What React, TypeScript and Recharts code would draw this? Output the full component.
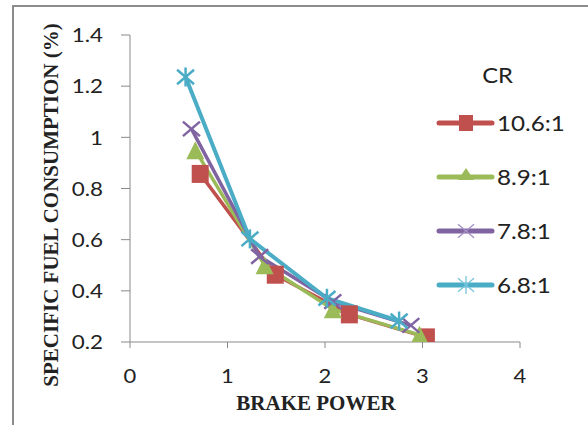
import React from 'react';
import { LineChart, Line, XAxis, YAxis, Legend } from 'recharts';

// ---- data ----
const SERIES_NAMES = ['10.6:1', '8.9:1', '7.8:1', '6.8:1'];
const SERIES_COLORS = ['#C0504D', '#9BBB59', '#8064A2', '#4BACC6'];
const SERIES_MARKERS = ['square', 'triangle', 'x', 'asterisk'];

const BP_106 = [0.72, 1.49, 2.25, 3.04];
const SFC_106 = [0.857, 0.463, 0.308, 0.218];
const BP_89 = [0.67, 1.38, 2.08, 2.97];
const SFC_89 = [0.95, 0.5, 0.328, 0.228];
const BP_78 = [0.63, 1.33, 2.08, 2.88];
const SFC_78 = [1.033, 0.534, 0.358, 0.265];
const BP_68 = [0.57, 1.23, 2.02, 2.76];
const SFC_68 = [1.236, 0.603, 0.371, 0.282];

const X_TICKS = [0, 1, 2, 3, 4];
const Y_TICKS = [0.2, 0.4, 0.6, 0.8, 1.0, 1.2, 1.4];
const X_TITLE = 'BRAKE POWER';
const Y_TITLE = 'SPECIFIC FUEL CONSUMPTION (%)';
const LEGEND_TITLE = 'CR';

const toPoints = (xs: number[], ys: number[]) => xs.map((x, i) => ({ x, y: ys[i] }));
const SERIES_DATA = [
  toPoints(BP_106, SFC_106),
  toPoints(BP_89, SFC_89),
  toPoints(BP_78, SFC_78),
  toPoints(BP_68, SFC_68),
];

const SANS = 'Lato, "Open Sans", sans-serif';
const SERIF = '"Liberation Serif", "DejaVu Serif", serif';
const AXIS_GREY = '#8a8a8a';
const TEXT = '#222';

function Marker({
  cx,
  cy,
  kind,
  color,
  small,
}: {
  cx: number;
  cy: number;
  kind: string;
  color: string;
  small?: boolean;
}) {
  if (cx == null || cy == null) return null;
  if (kind === 'square') {
    const w = small ? 14 : 17;
    const h = small ? 16 : 18;
    return <rect x={cx - w / 2} y={cy - h / 2} width={w} height={h} fill={color} />;
  }
  if (kind === 'triangle') {
    const w = small ? 16 : 18;
    const h = small ? 12 : 18;
    const top = small ? cy - h * 0.75 : cy - h / 2;
    return <polygon points={`${cx},${top} ${cx + w / 2},${top + h} ${cx - w / 2},${top + h}`} fill={color} />;
  }
  const r = small ? 8 : 8.5;
  const sw = small ? 1.3 : 2.5;
  const c = small ? (kind === 'x' ? '#a48fc4' : '#74c4da') : color;
  const lines = [
    <line key="a" x1={cx - r} y1={cy - r * 0.85} x2={cx + r} y2={cy + r * 0.85} stroke={c} strokeWidth={sw} />,
    <line key="b" x1={cx - r} y1={cy + r * 0.85} x2={cx + r} y2={cy - r * 0.85} stroke={c} strokeWidth={sw} />,
  ];
  if (kind === 'asterisk') {
    lines.push(<line key="c" x1={cx} y1={cy - r - 1} x2={cx} y2={cy + r + 1} stroke={c} strokeWidth={sw} />);
  }
  return <g>{lines}</g>;
}

const XTick = (props: any) => {
  const { x, y, payload } = props;
  return (
    <text
      transform={`translate(${x},${y}) scale(1.1,1)`}
      textAnchor="middle"
      dy="0.71em"
      fontSize={20}
      fontFamily={SANS}
      fill={TEXT}
    >
      {payload.value}
    </text>
  );
};

const YTick = (props: any) => {
  const { x, y, payload } = props;
  const v = Number(payload.value);
  const label = Number.isInteger(v) ? String(v) : v.toFixed(1);
  return (
    <text
      transform={`translate(${x},${y}) scale(1.12,1)`}
      textAnchor="end"
      dy="0.36em"
      fontSize={20}
      fontFamily={SANS}
      fill={TEXT}
    >
      {label}
    </text>
  );
};

const renderLegend = () => (
  <svg width={160} height={260} style={{ display: 'block', overflow: 'visible' }}>
    <text
      transform="translate(69.5,16) scale(1.08,1)"
      textAnchor="middle"
      dy="0.36em"
      fontSize={22}
      fontFamily={SANS}
      fill={TEXT}
    >
      {LEGEND_TITLE}
    </text>
    {SERIES_NAMES.map((name, i) => {
      const cy = 64 + i * 54;
      return (
        <g key={name}>
          <line x1={11} y1={cy} x2={64} y2={cy} stroke={SERIES_COLORS[i]} strokeWidth={5} strokeLinecap="round" />
          <Marker cx={38} cy={cy} kind={SERIES_MARKERS[i]} color={SERIES_COLORS[i]} small />
          <text
            transform={`translate(69,${cy}) scale(1.1,1)`}
            dy="0.36em"
            fontSize={22}
            fontFamily={SANS}
            fill={TEXT}
          >
            {name}
          </text>
        </g>
      );
    })}
  </svg>
);

export default function App() {
  return (
    <div
      style={{
        position: 'absolute',
        left: 0,
        top: 0,
        width: 588,
        height: 425,
        background: '#fff',
        overflow: 'hidden',
      }}
    >
      <div
        style={{
          position: 'absolute',
          left: 12,
          top: 5,
          width: 620,
          height: 460,
          border: '2px solid #8c8c8c',
        }}
      />
      <div style={{ position: 'absolute', left: 0, top: 0 }}>
        <LineChart width={588} height={425} margin={{ top: 35, right: 68, bottom: 53, left: 70 }}>
          <XAxis
            type="number"
            dataKey="x"
            domain={[0, 4]}
            ticks={X_TICKS}
            allowDataOverflow
            stroke={AXIS_GREY}
            tickLine={{ stroke: AXIS_GREY }}
            tickSize={6}
            tickMargin={21}
            height={30}
            tick={<XTick />}
            label={{
              content: () => (
                <text
                  x={316}
                  y={402}
                  textAnchor="middle"
                  dy="0.36em"
                  fontSize={21}
                  fontWeight="bold"
                  fontFamily={SERIF}
                  fill={TEXT}
                >
                  {X_TITLE}
                </text>
              ),
            }}
          />
          <YAxis
            type="number"
            dataKey="y"
            domain={[0.2, 1.4]}
            ticks={Y_TICKS}
            allowDataOverflow
            width={60}
            stroke={AXIS_GREY}
            tickLine={{ stroke: AXIS_GREY }}
            tickSize={9}
            tickMargin={18}
            tick={<YTick />}
            label={{
              content: () => (
                <text
                  transform="translate(50,205) rotate(-90)"
                  textAnchor="middle"
                  dy="0.36em"
                  fontSize={21}
                  fontWeight="bold"
                  fontFamily={SERIF}
                  fill={TEXT}
                >
                  {Y_TITLE}
                </text>
              ),
            }}
          />
          {SERIES_NAMES.map((name, i) => (
            <Line
              key={name}
              name={name}
              data={SERIES_DATA[i]}
              dataKey="y"
              type="linear"
              stroke={SERIES_COLORS[i]}
              strokeWidth={i === 3 ? 4 : 3.5}
              isAnimationActive={false}
              dot={(p: any) => (
                <Marker key={`${name}-${p.index}`} cx={p.cx} cy={p.cy} kind={SERIES_MARKERS[i]} color={SERIES_COLORS[i]} />
              )}
              activeDot={false}
            />
          ))}
          <Legend
            verticalAlign="middle"
            layout="horizontal"
            content={renderLegend}
            wrapperStyle={{ position: 'absolute', left: 428, top: 59, width: 160, height: 260 }}
          />
        </LineChart>
      </div>
    </div>
  );
}
